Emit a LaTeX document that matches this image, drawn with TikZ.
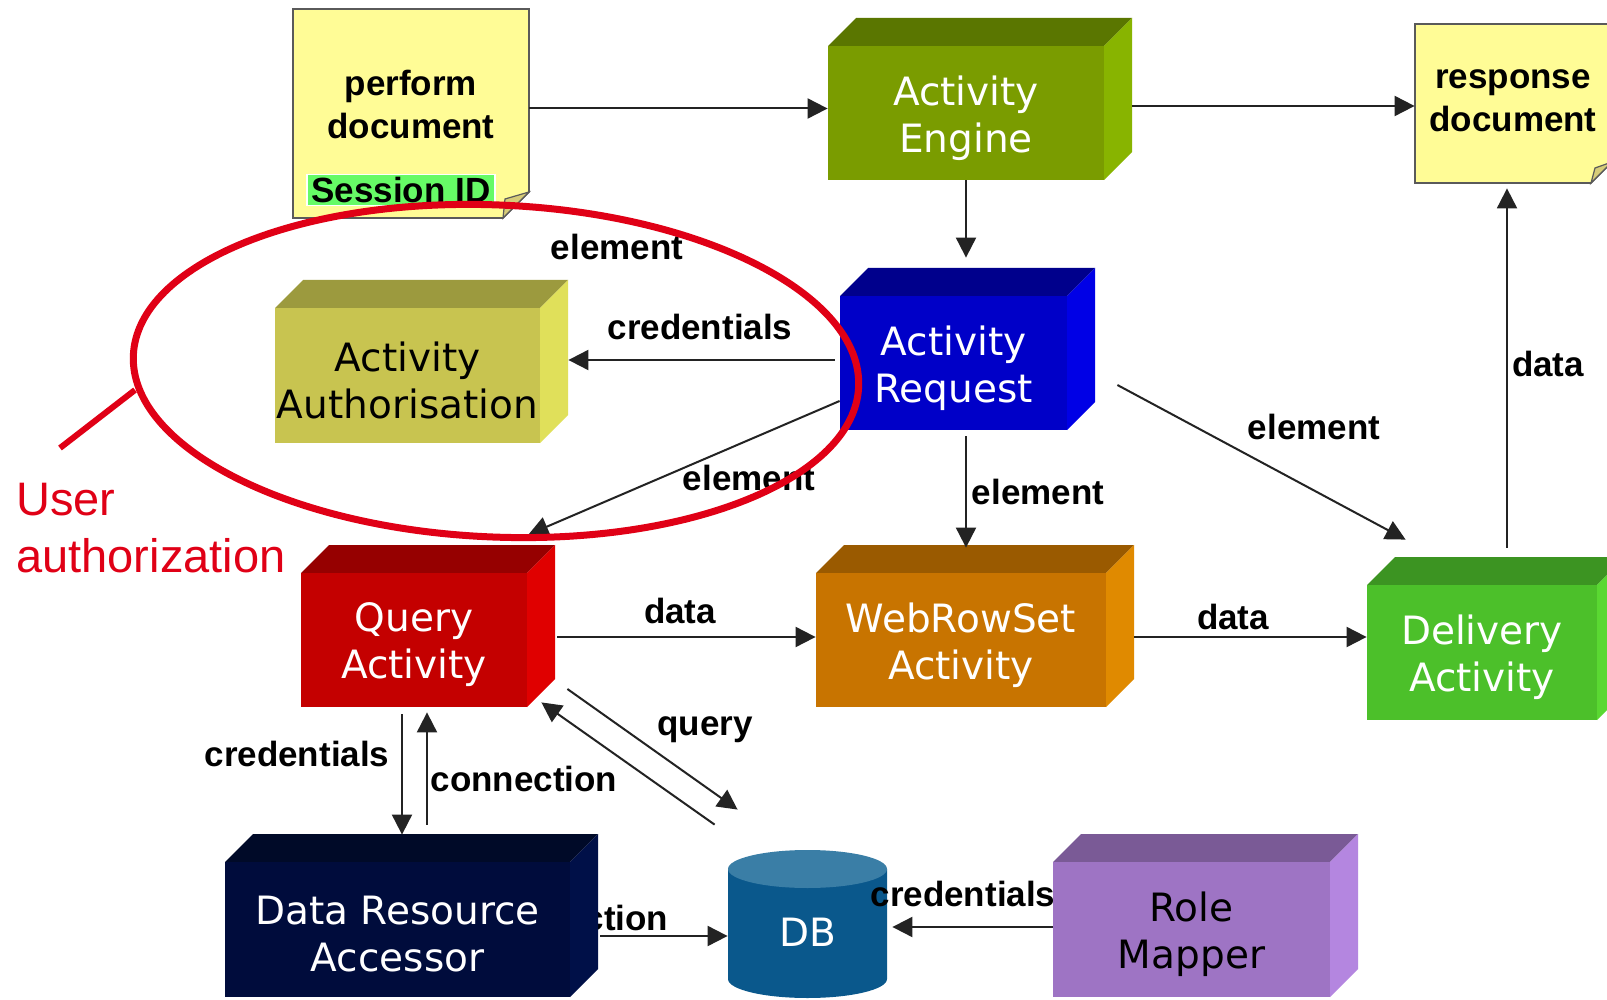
\documentclass[tikz,border=0pt]{standalone}
\usepackage{fontspec}
\setmainfont{Liberation Sans}
\newfontfamily\boxfont{DejaVu Sans}
\usetikzlibrary{arrows.meta,calc}

% box colours: F = front face, T = top face, S = side face
\definecolor{engF}{RGB}{122,156,0}
\definecolor{engT}{RGB}{90,118,0}
\definecolor{engS}{RGB}{136,180,0}
\definecolor{autF}{RGB}{200,196,80}
\definecolor{autT}{RGB}{156,154,62}
\definecolor{autS}{RGB}{224,224,90}
\definecolor{reqF}{RGB}{0,0,200}
\definecolor{reqT}{RGB}{0,0,140}
\definecolor{reqS}{RGB}{0,0,230}
\definecolor{qryF}{RGB}{196,0,0}
\definecolor{qryT}{RGB}{150,0,0}
\definecolor{qryS}{RGB}{224,0,0}
\definecolor{wrsF}{RGB}{200,116,0}
\definecolor{wrsT}{RGB}{154,90,0}
\definecolor{wrsS}{RGB}{224,138,0}
\definecolor{dlvF}{RGB}{76,192,42}
\definecolor{dlvT}{RGB}{60,148,34}
\definecolor{dlvS}{RGB}{90,216,50}
\definecolor{draF}{RGB}{0,12,60}
\definecolor{draT}{RGB}{0,10,40}
\definecolor{draS}{RGB}{0,16,72}
\definecolor{rolF}{RGB}{158,116,196}
\definecolor{rolT}{RGB}{122,90,150}
\definecolor{rolS}{RGB}{180,134,224}
\definecolor{dbbody}{RGB}{10,88,140}
\definecolor{dbtop}{RGB}{58,126,166}
\definecolor{noteyellow}{RGB}{255,252,150}
\definecolor{notefold}{RGB}{214,204,120}
\definecolor{notegray}{RGB}{90,90,90}
\definecolor{sessiongreen}{RGB}{102,250,102}
\definecolor{linegray}{RGB}{35,35,35}
\definecolor{authred}{RGB}{224,0,22}

% a shaded cuboid: front face is the named node, its caption sits slightly low
% #1 node name, #2 colour prefix, #3 left, #4 top, #5 right, #6 bottom, #7 text colour, #8 text
\newcommand\cuboid[8]{%
  \fill[#2T] (#3,#4) -- (#3+28,#4-28) -- (#5+28,#4-28) -- (#5,#4) -- cycle;
  \fill[#2S] (#5,#4) -- (#5+28,#4-28) -- (#5+28,#6-28) -- (#5,#6) -- cycle;
  \pgfmathsetmacro\cubw{(#5-#3)*0.5}%
  \pgfmathsetmacro\cubh{(#6-#4)*0.5}%
  \node[inner sep=0pt, fill=#2F, minimum width=\cubw pt, minimum height=\cubh pt]
    (#1) at ({(#3+#5)/2},{(#4+#6)/2}) {};
  \node[face, text=#7] (#1-text) at ({(#3+#5)/2},{(#4+#6)/2+5}) {#8};
}

\begin{document}
\begin{tikzpicture}[x=0.5pt,y=-0.5pt,
  face/.style={inner sep=0pt, align=center, font=\boxfont\fontsize{19.5}{23.5}\selectfont},
  lbl/.style={inner sep=0pt, font=\bfseries\fontsize{17.5}{21}\selectfont},
  notetext/.style={inner sep=0pt, align=center, font=\bfseries\fontsize{17.5}{21.5}\selectfont},
  anchorbox/.style={inner sep=0pt},
  link/.style={draw=linegray, line width=1pt, -{Triangle[length=10pt,width=10pt]}},
  notebg/.style={fill=noteyellow, draw=notegray, line width=0.8pt},
  fold/.style={fill=notefold, draw=notegray, line width=0.6pt},
]
\useasboundingbox (0,0) rectangle (1607,1000);
\clip (0,0) rectangle (1607,1000);
\fill[white] (0,0) rectangle (1607,1000);

% input note
\filldraw[notebg] (293,9) -- (529,9) -- (529,192) -- (503,218) -- (293,218) -- cycle;
\filldraw[fold] (529,192) -- (505,199) -- (503,218) -- cycle;
\node[anchorbox, minimum width=118pt, minimum height=104.5pt] (perf) at (411,113.5) {};
\node[notetext] (perftext) at (411,104) {perform\\document};
\node[lbl, fill=sessiongreen, draw=white, line width=0.8pt, minimum width=94pt,
      minimum height=15.5pt] (sid) at (401,190) {Session ID};

% output note
\filldraw[notebg] (1415,24) -- (1612,24) -- (1612,162) -- (1591,183) -- (1415,183) -- cycle;
\filldraw[fold] (1612,162) -- (1595,168) -- (1591,183) -- cycle;
\node[anchorbox, minimum width=98.5pt, minimum height=79.5pt] (resp) at (1513.5,103.5) {};
\node[notetext] (resptext) at (1513,101) {response\\document};

% partly hidden label behind the accessor box
\node[lbl] (lconn2) at (575,918) {connection};

% activity boxes
\cuboid{eng}{eng}{828}{46}{1104}{180}{white}{Activity\\Engine}
\cuboid{auth}{aut}{275}{308}{540}{443}{black}{Activity\\Authorisation}
\cuboid{req}{req}{840}{296}{1067}{430}{white}{Activity\\Request}
\cuboid{query}{qry}{301}{573}{527}{707}{white}{Query\\Activity}
\cuboid{wrs}{wrs}{816}{573}{1106}{707}{white}{WebRowSet\\Activity}
\cuboid{deliv}{dlv}{1367}{585}{1597}{720}{white}{Delivery\\Activity}
\cuboid{dra}{dra}{225}{862}{570}{997}{white}{Data Resource\\Accessor}
\cuboid{role}{rol}{1053}{862}{1330}{997}{black}{Role\\Mapper}

% database cylinder
\fill[dbbody] (728,869) -- (728,979) arc[start angle=180, end angle=0, x radius=79.5, y radius=19] -- (887,869) -- cycle;
\fill[dbtop] (807.5,869) ellipse [x radius=79.5, y radius=19];
\node[anchorbox, minimum width=79.5pt, minimum height=74pt] (db) at (807.5,924) {};
\node[face, text=white] (dbtext) at (807.5,932) {DB};

% connectors
\draw[link] ($(perf.east)+(0,-5)$) -- ($(perf.east -| eng.west)+(0,-5)$);
\draw[link] ($(eng.east)+(28,-7)$) -- ($(eng.east -| resp.west)+(0,-7)$);
\draw[link] (eng.south) -- ($(eng.south |- req.north)+(0,-38)$);
\draw[link] ($(req.west)+(-5,-3)$) -- ($(req.west -| auth.east)+(28,-3)$);
\draw[link] ($(req.west)+(0,38)$) -- ($(query.north east)+(1,-38)$);
\draw[link] ($(req.south)+(12.5,6)$) -- ($(req.south |- wrs.north)+(12.5,-25)$);
\draw[link] ($(req.east)+(50,22)$) -- ($(deliv.north west)+(39,-45)$);
\draw[link] ($(deliv.north)+(25,-37)$) -- ($(deliv.north |- resp.south)+(25,5)$);
\draw[link] ($(query.east)+(30,-3)$) -- ($(query.east -| wrs.west)+(0,-3)$);
\draw[link] ($(wrs.east)+(28,-3)$) -- ($(wrs.east -| deliv.west)+(0,-3)$);
\draw[link] ($(query.south)+(-12,7)$) -- ($(query.south |- dra.north)+(-12,-27)$);
\draw[link] ($(query.south |- dra.north)+(13,-37)$) -- ($(query.south)+(13,5)$);
\draw[link] ($(query.east)+(40,49)$) -- ($(db.north west)+(10,-40)$);
\draw[link] ($(db.north west)+(-13,-25)$) -- ($(query.south east)+(14,-5)$);
\draw[link] ($(dra.east)+(30,6.5)$) -- ($(dra.east -| db.west)+(0,6.5)$);
\draw[link] ($(role.west)+(0,-2.5)$) -- ($(role.west -| db.east)+(5,-2.5)$);

% connector labels
\node[lbl] (lel1) at (617,247) {element};
\node[lbl] (lcred1) at (700,327) {credentials};
\node[lbl] (lel2) at (749,478) {element};
\node[lbl] (lel3) at (1038,492) {element};
\node[lbl] (lel4) at (1314,427) {element};
\node[lbl] (ldata1) at (1548,364) {data};
\node[lbl] (ldata2) at (680,611) {data};
\node[lbl] (ldata3) at (1233,617) {data};
\node[lbl] (lcred2) at (297,754) {credentials};
\node[lbl] (lconn1) at (524,779) {connection};
\node[lbl] (lquery) at (705,730) {query};
\node[lbl] (lcred3) at (963,894) {credentials};

% user authorisation highlight
\draw[authred, line width=3.5pt, rotate around={-2.5:(496,371)}]
  (496,371) ellipse [x radius=363, y radius=166];
\coordinate (tickend) at (135,390);
\coordinate (tickstart) at (60,448);
\draw[authred, line width=3pt] (tickstart) -- (tickend);
\node[anchor=north west, inner sep=0pt, align=left, text=authred,
      font=\fontsize{23.5}{28.5}\selectfont] (uauth) at (16,483) {User\\authorization};
\end{tikzpicture}
\end{document}
